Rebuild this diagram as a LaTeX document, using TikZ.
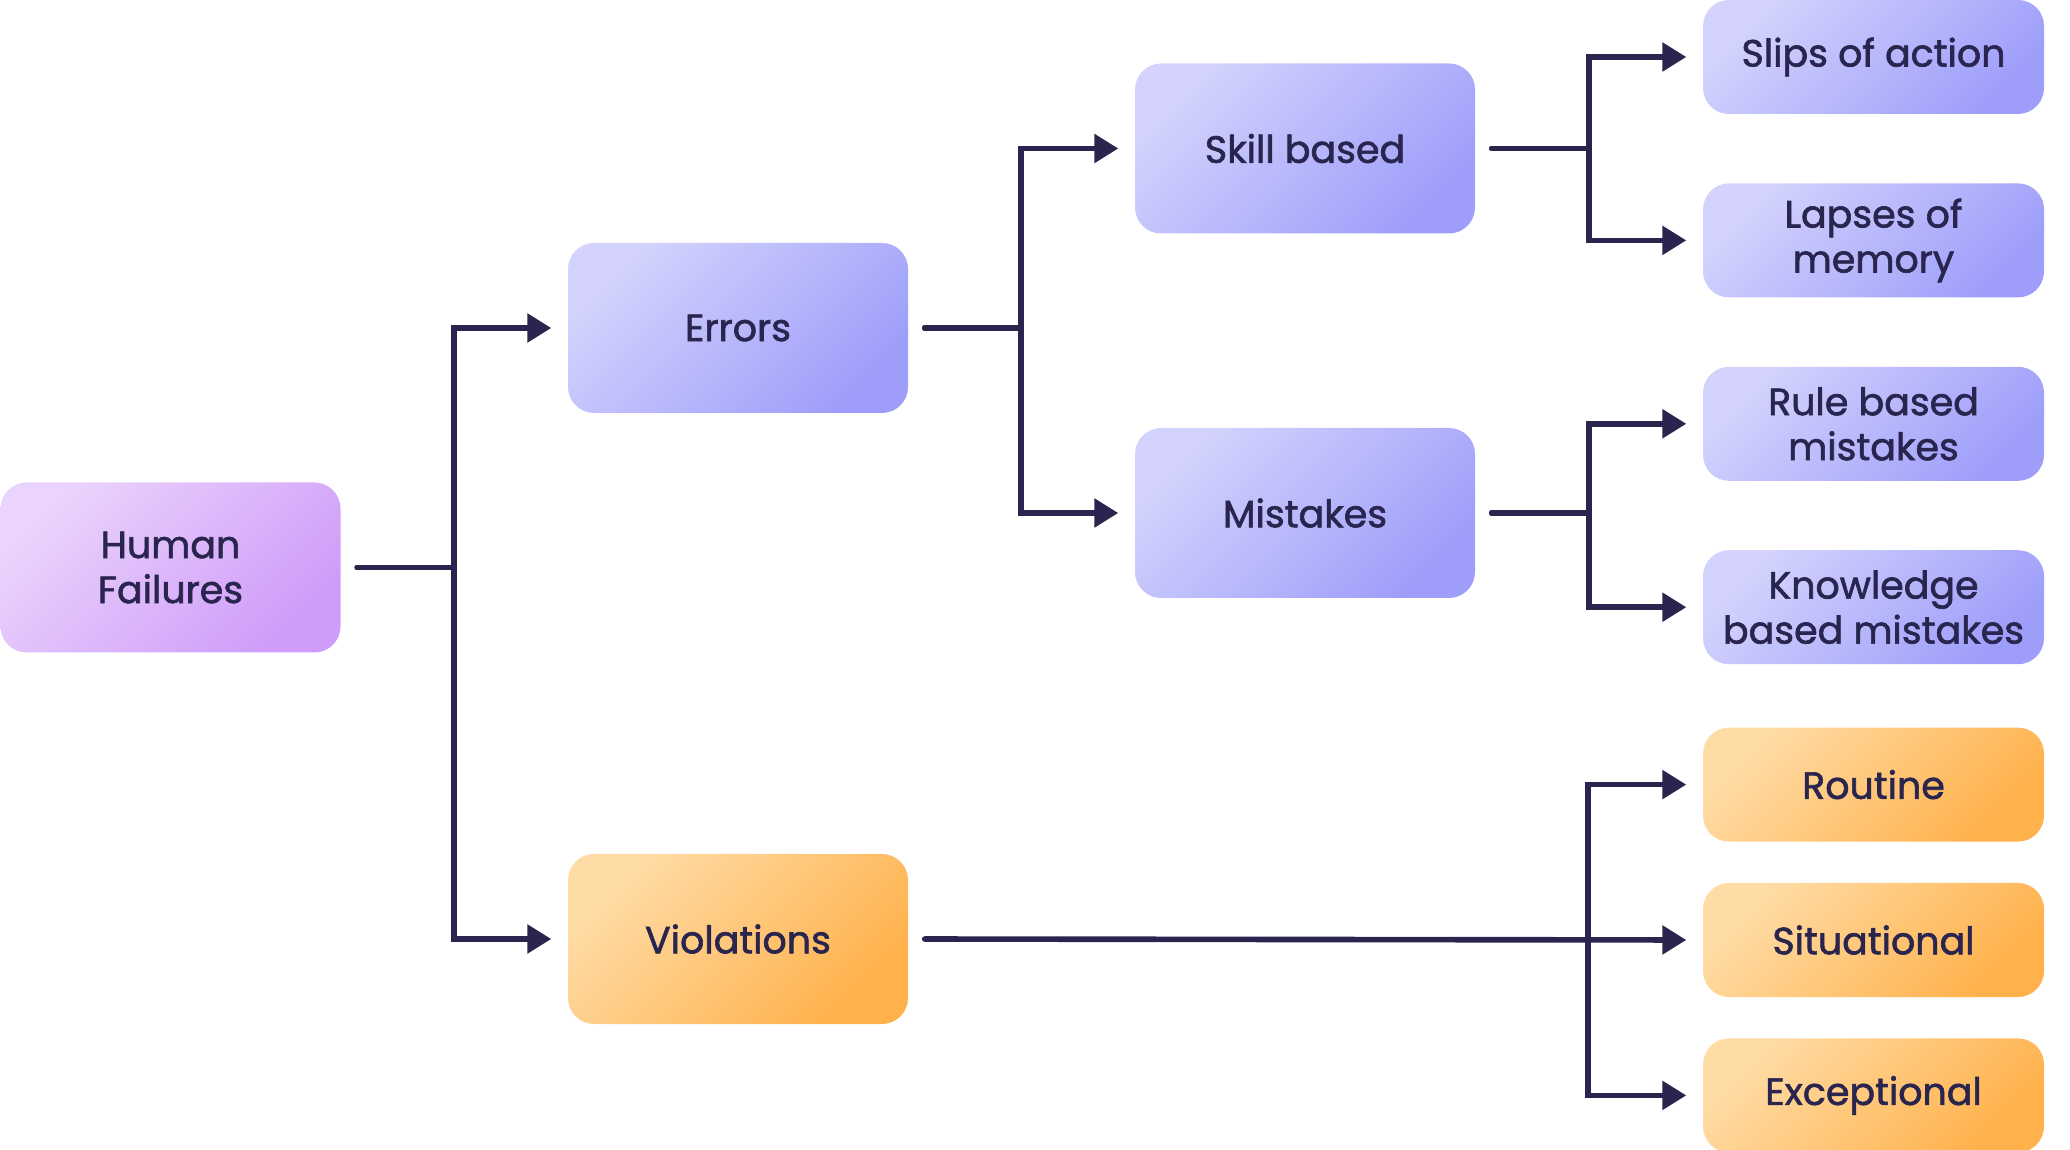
\documentclass[tikz,border=0pt]{standalone}
\usepackage{fontspec}
\setmainfont{Poppins}[FakeBold=1.6]
\usetikzlibrary{positioning,arrows.meta}

\definecolor{ink}{HTML}{29254F}
\definecolor{lilacA}{HTML}{EAD3FC}
\definecolor{lilacB}{HTML}{CF9CF9}
\definecolor{blueA}{HTML}{D3D3FD}
\definecolor{blueB}{HTML}{9E9EFA}
\definecolor{orngA}{HTML}{FFDCA6}
\definecolor{orngB}{HTML}{FFB14B}

\begin{document}
\begin{tikzpicture}[
        box/.style={rounded corners=0.26cm, align=center, text=ink,
            font=\fontsize{10.8}{12.8}\selectfont},
        big/.style={box, minimum width=3.4cm, minimum height=1.7cm},
        small/.style={box, minimum width=3.41cm, minimum height=1.14cm},
        lilac/.style={top color=lilacA, bottom color=lilacB, shading angle=45},
        blue/.style={top color=blueA, bottom color=blueB, shading angle=45},
        orng/.style={top color=orngA, bottom color=orngB, shading angle=45},
        link/.style={draw=ink, line width=1.6pt, line cap=round,
            -{Triangle[length=0.24cm,width=0.28cm]},
            shorten <=0.16cm, shorten >=0.16cm}
    ]
    \useasboundingbox (0,0) rectangle (20.70,-11.50);

    \node[big, lilac] at (1.705, -5.675) (hf) {Human\\Failures};

    \node[big, blue] at (7.38, -3.28) (err) {Errors};
    \node[big, orng] at (7.38, -9.39) (vio) {Violations};

    \node[big, blue] at (13.05, -1.485) (skb) {Skill based};
    \node[big, blue] at (13.05, -5.13) (mis) {Mistakes};

    \node[small, blue] at (18.735, -0.57) (sla) {Slips of action};
    \node[small, blue] (lap) [below=0.68cm of sla] {Lapses of\\memory};
    \node[small, blue] (rbm) [below=0.68cm of lap] {Rule based\\mistakes};
    \node[small, blue] (kbm) [below=0.68cm of rbm] {Knowledge\\based mistakes};

    \node[small, orng] at (18.735, -9.40) (sit) {Situational};
    \node[small, orng] (rou) [above=0.40cm of sit] {Routine};
    \node[small, orng] (exc) [below=0.40cm of sit] {Exceptional};

    \draw[link] (hf.east) -- ++(1.13,0) |- (err.west);
    \draw[link] (hf.east) -- ++(1.13,0) |- (vio.west);

    \draw[link] (err.east) -- ++(1.12,0) |- (skb.west);
    \draw[link] (err.east) -- ++(1.12,0) |- (mis.west);

    \draw[link] (skb.east) -- ++(1.13,0) |- (sla.west);
    \draw[link] (skb.east) -- ++(1.13,0) |- (lap.west);
    \draw[link] (mis.east) -- ++(1.13,0) |- (rbm.west);
    \draw[link] (mis.east) -- ++(1.13,0) |- (kbm.west);

    \draw[link] (vio.east) -- (sit.west);
    \coordinate (vfork) at (15.88, -9.39);
    \draw[link, shorten <=0pt] (vfork) |- (rou.west);
    \draw[link, shorten <=0pt] (vfork) |- (exc.west);
\end{tikzpicture}
\end{document}
